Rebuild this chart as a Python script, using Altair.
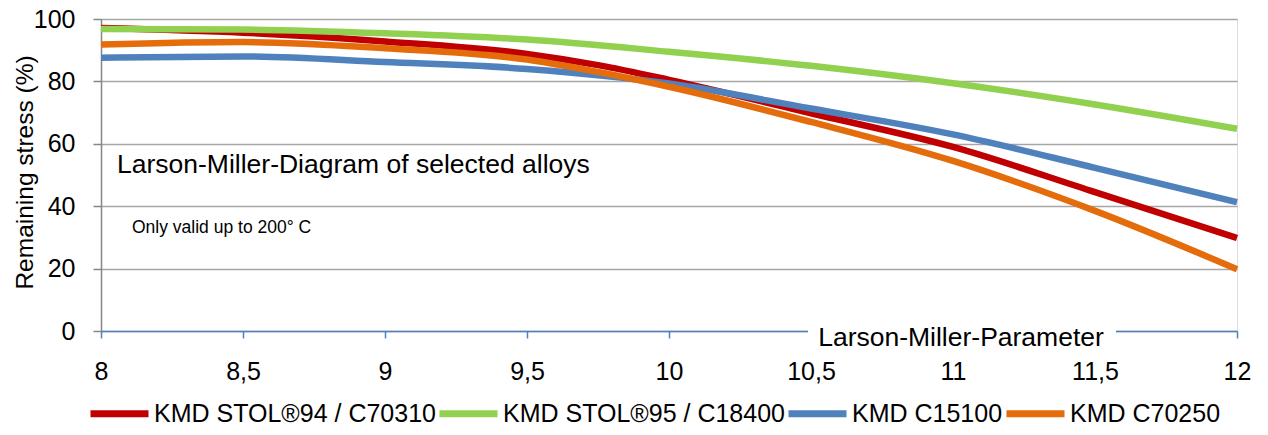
import altair as alt
import pandas as pd

# ---- data ----
series_names = ["KMD STOL®94 / C70310", "KMD STOL®95 / C18400", "KMD C15100", "KMD C70250"]
lmp_stol94 = [8, 8.5, 9, 9.5, 9.75, 10, 10.5, 11, 11.5, 12]
stol94_c70310 = [97.1, 95.6, 92.8, 88.8, 85.2, 80.5, 69.8, 59.0, 44.5, 29.8]
lmp_stol95 = [8, 8.5, 9, 9.5, 10, 10.5, 11, 11.5, 12]
stol95_c18400 = [96.8, 96.6, 95.4, 93.4, 89.5, 85.0, 79.4, 72.6, 64.8]
lmp_c15100 = [8, 8.5, 9, 9.5, 10, 10.5, 11, 11.5, 12]
c15100 = [87.6, 88.0, 86.2, 84.0, 79.3, 71.3, 63.0, 52.3, 41.3]
lmp_c70250 = [8, 8.5, 9, 9.5, 9.75, 10, 10.5, 11, 11.5, 12]
c70250 = [91.8, 92.6, 90.6, 87.0, 83.0, 78.3, 67.0, 54.5, 38.5, 19.8]
series_colors = ["#C00000", "#92D050", "#4F81BD", "#E46C0A"]
x_ticks = [8, 8.5, 9, 9.5, 10, 10.5, 11, 11.5, 12]
y_ticks = [0, 20, 40, 60, 80, 100]

chart_title = "Larson-Miller-Diagram of selected alloys"
note_text = "Only valid up to 200° C"
x_title = "Larson-Miller-Parameter"
y_title = "Remaining stress (%)"

FONT = "Liberation Sans"

rows = []
for name, xs, vals in zip(
    series_names,
    [lmp_stol94, lmp_stol95, lmp_c15100, lmp_c70250],
    [stol94_c70310, stol95_c18400, c15100, c70250],
):
    for xv, yv in zip(xs, vals):
        rows.append({"series": name, "lmp": xv, "stress": yv})
df = pd.DataFrame(rows)

x_enc = alt.X(
    "lmp:Q",
    scale=alt.Scale(domain=[8, 12], nice=False, zero=False),
    axis=alt.Axis(
        values=x_ticks,
        labelExpr="replace(format(datum.value, '~g'), '.', ',')",
        title=None,
        domainColor="#4F81BD",
        domainWidth=1.5,
        tickColor="#4F81BD",
        tickWidth=1.5,
        tickSize=7,
        labelFontSize=25,
        labelFont=FONT,
        labelColor="#000000",
        labelPadding=21,
        labelFlush=False,
        labelOverlap=False,
        grid=False,
        zindex=0,
    ),
)
y_enc = alt.Y(
    "stress:Q",
    scale=alt.Scale(domain=[0, 100], nice=False),
    axis=alt.Axis(
        values=y_ticks,
        title=y_title,
        titleFont=FONT,
        titleFontSize=24.5,
        titleFontWeight="normal",
        titleColor="#000000",
        titleAngle=-90,
        titleX=-76,
        titleY=153,
        titleAlign="center",
        titleBaseline="middle",
        domainColor="#868686",
        domainWidth=1.5,
        tickColor="#868686",
        tickWidth=1.5,
        tickSize=8,
        labelFontSize=25,
        labelFont=FONT,
        labelColor="#000000",
        labelPadding=18,
        grid=True,
        gridColor="#A6A6A6",
        gridWidth=1.5,
        zindex=0,
    ),
)
color_enc = alt.Color(
    "series:N",
    sort=series_names,
    scale=alt.Scale(domain=series_names, range=series_colors),
    legend=alt.Legend(
        title=None,
        orient="none",
        direction="horizontal",
        legendX=-14,
        legendY=362,
        padding=0,
        symbolType="stroke",
        symbolSize=3364,
        symbolStrokeWidth=7,
        labelFont=FONT,
        labelFontSize=25,
        labelColor="#000000",
        labelOffset=2,
        labelLimit=500,
        columnPadding=-11,
    ),
)

layers = []
for name in series_names:
    layers.append(
        alt.Chart(df)
        .transform_filter(alt.datum.series == name)
        .mark_line(strokeWidth=6.5, interpolate="monotone")
        .encode(x=x_enc, y=y_enc, color=color_enc)
    )

title_df = pd.DataFrame({"t": [chart_title]})
note_df = pd.DataFrame({"t": [note_text]})
xt_df = pd.DataFrame({"t": [x_title]})

title_mark = alt.Chart(title_df).mark_text(
    align="left", baseline="middle", font=FONT, fontSize=26.5, color="#000000"
).encode(text="t:N", x=alt.value(16), y=alt.value(146))

note_mark = alt.Chart(note_df).mark_text(
    align="left", baseline="middle", font=FONT, fontSize=17.5, color="#000000"
).encode(text="t:N", x=alt.value(31), y=alt.value(209))

xt_box = alt.Chart(xt_df).mark_rect(color="white").encode(
    x=alt.value(707), x2=alt.value(1015), y=alt.value(302), y2=alt.value(324)
)
xt_mark = alt.Chart(xt_df).mark_text(
    align="center", baseline="middle", font=FONT, fontSize=26.5, color="#000000"
).encode(text="t:N", x=alt.value(860), y=alt.value(319))

chart = (
    alt.layer(*layers, xt_box, xt_mark, title_mark, note_mark)
    .properties(
        width=1136,
        height=312,
        padding={"left": 93, "top": 11, "right": 23, "bottom": 96},
        autosize=alt.AutoSizeParams(type="none"),
    )
    .configure_view(stroke=None)
    .configure(background="white")
)

chart.save("out.html", embed_options={"renderer": "svg", "actions": False})
